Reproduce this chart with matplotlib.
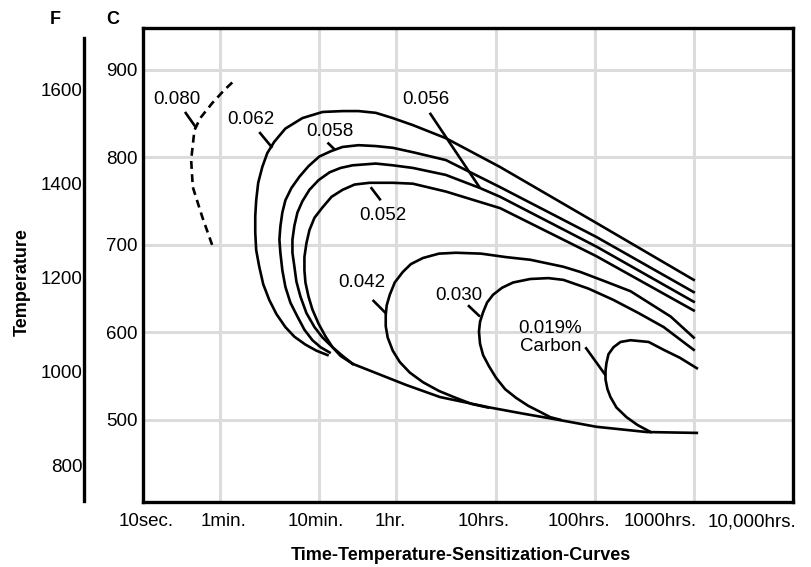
import matplotlib
matplotlib.use('Agg')
import matplotlib.pyplot as plt
from matplotlib.ticker import NullLocator
from matplotlib.transforms import ScaledTranslation

# time in minutes, temperature in deg C

# 0.080 % C (dashed)
c080_t = [0.83, 0.66, 0.53, 0.51, 0.55, 0.63, 0.83, 1.10, 1.42]
c080_T = [700, 732, 766, 797, 831, 845, 862, 877, 889]

# 0.062 % C
c062_t = [59800, 6250, 667, 189, 87.7, 55.1, 37.1, 24.9, 17.2, 10.8, 6.76,
          4.55, 3.52, 2.99, 2.66, 2.42, 2.31, 2.26, 2.26, 2.31, 2.48, 2.72,
          3.13, 3.69, 4.55, 5.61, 7.25, 9.37, 12.1]
c062_T = [660, 725, 789, 822, 837, 845, 851, 853, 853, 852, 845,
          833, 818, 805, 789, 771, 751, 733, 714, 694, 675, 655,
          637, 621, 606, 595, 586, 579, 574]

# 0.058 % C
c058_t = [59800, 6250, 667, 189, 87.7, 55.1, 37.1, 24.9, 17.2, 13.0, 10.0,
          7.78, 6.31, 5.23, 4.55, 4.24, 4.05, 3.96, 4.05, 4.24, 4.55, 5.11,
          6.02, 7.08, 8.53, 10.3, 12.7]
c058_T = [646, 709, 766, 797, 806, 811, 813, 814, 812, 807, 801,
          790, 778, 765, 751, 737, 721, 706, 691, 671, 652, 634,
          618, 603, 591, 583, 577]

# 0.056 % C
c056_t = [59800, 6250, 667, 418, 189, 87.7, 55.1, 37.1, 21.7, 16.4, 12.7,
          9.82, 7.96, 6.76, 6.02, 5.61, 5.36, 5.36, 5.61, 5.88, 6.45, 7.42,
          8.94, 10.8, 13.6, 17.2, 21.7]
c056_T = [635, 698, 755, 765, 780, 788, 791, 793, 791, 788, 783,
          774, 763, 750, 737, 722, 706, 691, 675, 658, 641, 622,
          606, 594, 583, 573, 564]

# 0.052 % C
c052_t = [59800, 6250, 667, 189, 87.7, 55.1, 32.2, 22.7, 17.2, 13.3, 10.8,
          8.94, 7.96, 7.42, 7.08, 7.08, 7.25, 7.78, 8.53, 9.82, 11.6, 13.6,
          16.4, 21.7]
c052_T = [625, 687, 742, 761, 770, 771, 771, 769, 763, 755, 743,
          731, 717, 702, 686, 671, 657, 641, 626, 610, 595, 583,
          573, 564]

# lower limit shared by all curves
lower_t = [21.7, 34.5, 74.5, 165, 528, 1140, 2576, 6250, 11190, 20040, 64270]
lower_T = [564, 555, 540, 526, 514, 507, 500, 492, 489, 486, 485]

# 0.042 % C
c042_t = [59800, 35060, 13800, 7350, 4305, 2896, 1342, 767, 428, 239, 161,
          111, 83.8, 69.5, 57.7, 51.4, 47.9, 46.8, 46.8, 49.0, 55.1, 64.9,
          81.8, 111, 161, 239, 347, 504]
c042_T = [594, 618, 647, 659, 669, 675, 683, 686, 690, 691, 690,
          685, 678, 669, 657, 643, 631, 620, 607, 594, 579, 566,
          554, 543, 533, 525, 518, 514]

# 0.030 % C
c030_t = [59800, 29780, 16630, 9290, 5190, 2896, 2042, 1342, 902, 698, 566,
          492, 449, 418, 408, 418, 449, 516, 607, 749, 968, 1280, 1694,
          2138, 2698]
c030_T = [580, 606, 622, 637, 650, 660, 662, 661, 657, 651, 643,
          634, 623, 612, 601, 587, 574, 561, 548, 535, 525, 516, 509,
          503, 500]

# 0.019 % C
c019_t = [64270, 43250, 29780, 20990, 13800, 10920, 9290, 8260, 7884, 7710,
          7710, 8070, 8650, 9950, 12560, 16240, 21980]
c019_T = [559, 571, 580, 589, 591, 589, 583, 575, 565, 556,
          546, 535, 526, 514, 503, 494, 486]

# curve labels and their leader lines
label_text = ['0.080', '0.062', '0.058', '0.056', '0.052', '0.042', '0.030']
label_t = [0.367, 2.06, 12.7, 119, 43.6, 26.7, 256]
label_T = [866, 843, 830, 866, 734, 657, 642]
leader_t = [(0.442, 0.572), (2.48, 3.36), (12.1, 14.3), (130, 418),
            (33.0, 41.6), (34.5, 46.8), (316, 418), (4831, 7710)]
leader_T = [(852, 834), (829, 811), (817, 809), (851, 765),
            (766, 751), (637, 622), (631, 618), (583, 551)]
carbon_text = '0.019%\nCarbon'
carbon_t = 4405
carbon_T = 594

time_ticks = [1 / 6, 1, 10, 60, 600, 6000, 60000, 600000]
time_labels = ['10sec.', '1min.', '10min.', '1hr.', '10hrs.', '100hrs.',
               '1000hrs.', '10,000hrs.']
temp_c_ticks = [500, 600, 700, 800, 900]
temp_f_ticks = [800, 1000, 1200, 1400, 1600]

plt.rcParams['font.family'] = ['Liberation Sans', 'DejaVu Sans']

W, H = 812, 567
fig = plt.figure(figsize=(W / 100, H / 100), dpi=100)
ax = fig.add_axes([143 / W, 65 / H, 650 / W, 474 / H])
ax.set_xscale('log')
ax.set_xlim(1 / 6, 600000)
ax.set_ylim(406, 948)
ax.set_xticks(time_ticks)
ax.set_xticklabels(time_labels)
ax.xaxis.set_minor_locator(NullLocator())
ax.set_yticks(temp_c_ticks)
ax.tick_params(length=0, labelsize=13.5, colors='black')
ax.tick_params(axis='x', pad=8)
ax.tick_params(axis='y', pad=4)
ax.grid(True, color='#dcdcdc', lw=2.2)
ax.set_axisbelow(True)
for s in ax.spines.values():
    s.set_linewidth(2.4)

# nudge the time labels the way they sit in the original
xlabel_dx = [3, 3, -3, -6, -12, -16, -34, -41]
for lab, dx in zip(ax.get_xticklabels(), xlabel_dx):
    lab.set_transform(lab.get_transform() + ScaledTranslation(dx / 100, 0, fig.dpi_scale_trans))

lw = 1.9
ax.plot(c080_t, c080_T, color='black', lw=lw, linestyle=(0, (3, 2)))
for t, T in [(c062_t, c062_T), (c058_t, c058_T), (c056_t, c056_T),
             (c052_t, c052_T), (lower_t, lower_T), (c042_t, c042_T),
             (c030_t, c030_T), (c019_t, c019_T)]:
    ax.plot(t, T, color='black', lw=lw)

for t, T in zip(leader_t, leader_T):
    ax.plot(t, T, color='black', lw=lw, solid_capstyle='butt')

for s, t, T in zip(label_text, label_t, label_T):
    ax.text(t, T, s, ha='center', va='center', fontsize=13.5)
ax.text(carbon_t, carbon_T, carbon_text, ha='right', va='center',
        multialignment='right', fontsize=13.5, linespacing=1.05)

# Fahrenheit scale on its own line to the left
axf = fig.add_axes([84 / W, 65 / H, 0.001, 474 / H])
axf.set_ylim(723, 1730)
axf.set_yticks(temp_f_ticks)
axf.set_xticks([])
for k in ['top', 'right', 'bottom']:
    axf.spines[k].set_visible(False)
axf.spines['left'].set_bounds(725, 1708)
axf.spines['left'].set_linewidth(2.4)
axf.tick_params(axis='y', length=0, labelsize=13.5, pad=1)
axf.patch.set_visible(False)

fig.text(55 / W, 1 - 19 / H, 'F', ha='center', va='center', fontsize=13, fontweight='bold')
fig.text(113 / W, 1 - 19 / H, 'C', ha='center', va='center', fontsize=13, fontweight='bold')
fig.text(22 / W, 1 - 282 / H, 'Temperature', rotation=90, ha='center', va='center',
         fontsize=13, fontweight='bold')
fig.text(461 / W, 1 - 555 / H, 'Time-Temperature-Sensitization-Curves', ha='center',
         va='center', fontsize=13, fontweight='bold')

fig.savefig('out.png', dpi=100)
